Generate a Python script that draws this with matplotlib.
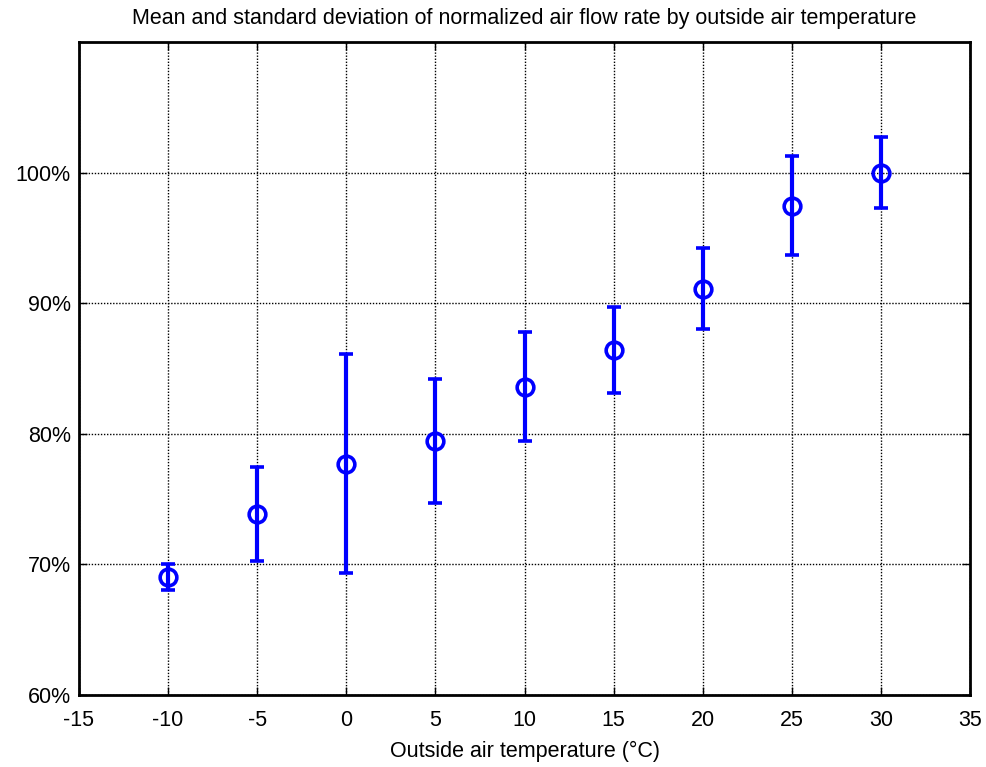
import numpy as np
import matplotlib
matplotlib.use("Agg")
import matplotlib.pyplot as plt
from matplotlib.ticker import FuncFormatter

# outside air temperature bins (deg C)
temps = [-10, -5, 0, 5, 10, 15, 20, 25, 30]
# mean normalized air flow rate (%)
means = [69.0, 73.85, 77.7, 79.45, 83.6, 86.4, 91.1, 97.47, 100.0]
# standard deviation (%)
stds = [1.0, 3.57, 8.4, 4.78, 4.17, 3.3, 3.1, 3.8, 2.74]

xticks = [-15, -10, -5, 0, 5, 10, 15, 20, 25, 30, 35]
yticks = [60, 70, 80, 90, 100]

plt.rcParams['font.family'] = ['Liberation Sans', 'DejaVu Sans']
plt.rcParams['axes.unicode_minus'] = False

fig = plt.figure(figsize=(9.87, 7.67), dpi=100)
ax = fig.add_axes([0.080, 0.094, 0.903, 0.851])

ax.errorbar(temps, means, yerr=stds, fmt='o', color='#0000ff',
            mfc='none', mec='#0000ff', ms=12, mew=2.6,
            elinewidth=3, capsize=5, capthick=3.2, zorder=3)

ax.set_xlim(-15, 35)
ax.set_ylim(60, 110)
ax.set_xticks(xticks)
ax.set_yticks(yticks)
ax.yaxis.set_major_formatter(FuncFormatter(lambda v, p: '%d%%' % v))
ax.grid(True, color='black', linestyle=(0, (1, 1.2)), linewidth=1)
ax.tick_params(direction='in', top=True, right=True, length=6, width=1,
               labelsize=15.5)
ax.tick_params(axis='x', pad=11)
ax.tick_params(axis='y', pad=6)
for s in ax.spines.values():
    s.set_linewidth(2)

ax.set_title('Mean and standard deviation of normalized air flow rate by outside air temperature',
             fontsize=15.5, pad=13)
ax.set_xlabel('Outside air temperature (°C)', fontsize=15.5, labelpad=7)

fig.savefig('out.png', dpi=100)
